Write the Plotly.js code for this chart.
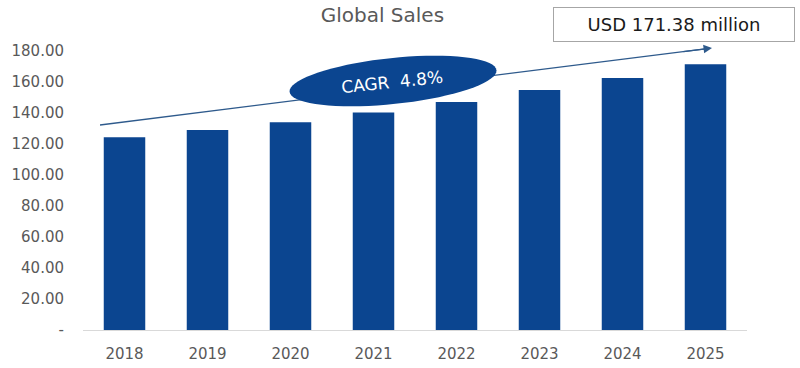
<!DOCTYPE html>
<html><head><meta charset="utf-8">
<script src="https://cdn.plot.ly/plotly-3.0.1.min.js"></script>
<style>html,body{margin:0;padding:0;background:#fff}#chart{width:800px;height:368px}</style>
</head><body><div id="chart"></div>
<script>
const years = ['2018','2019','2020','2021','2022','2023','2024','2025'];
const sales = [124.4, 129.0, 134.1, 140.3, 147.1, 154.8, 162.6, 171.38];
const yTickVals = [0, 20, 40, 60, 80, 100, 120, 140, 160, 180];
const yTickText = ['-', '20.00', '40.00', '60.00', '80.00', '100.00', '120.00', '140.00', '160.00', '180.00'];
const titleText = 'Global Sales';
const cagrText = 'CAGR  4.8%';
const calloutText = 'USD 171.38 million';

// plot-area geometry in pixels (for decorative shapes)
const L = 83, R = 53, T = 51, B = 38, W = 800, H = 368;
const pw = W - L - R, ph = H - T - B;
const px = x => (x - L) / pw;
const py = y => (H - B - y) / ph;

// rotated ellipse path (decorative)
function ellipsePath(cx, cy, a, b, deg) {
  const r = deg * Math.PI / 180;
  let d = '';
  for (let i = 0; i <= 72; i++) {
    const t = i / 72 * 2 * Math.PI;
    const ex = a * Math.cos(t), ey = b * Math.sin(t);
    const x = cx + ex * Math.cos(r) - ey * Math.sin(r);
    const y = cy + ex * Math.sin(r) + ey * Math.cos(r);
    d += (i === 0 ? 'M' : 'L') + px(x).toFixed(5) + ',' + py(y).toFixed(5) + ' ';
  }
  return d + 'Z';
}

const data = [{
  type: 'bar', x: years, y: sales,
  marker: {color: '#0b4590', line: {width: 0}},
  hoverinfo: 'x+y'
}];

const layout = {
  width: W, height: H,
  margin: {l: L, r: R, t: T, b: B},
  paper_bgcolor: '#fff', plot_bgcolor: '#fff',
  showlegend: false, bargap: 0.5,
  font: {family: 'DejaVu Sans', color: '#595959'},
  title: {text: titleText, x: 0.478, xanchor: 'center', y: 0.958, yanchor: 'middle',
          font: {family: 'DejaVu Sans', size: 20, color: '#595959'}},
  xaxis: {type: 'category', showgrid: false, zeroline: false, showline: true,
          linecolor: '#d9d9d9', linewidth: 1, ticks: '', ticklabelstandoff: 10,
          tickfont: {size: 15, color: '#595959'}},
  yaxis: {range: [0, 180], showgrid: false, zeroline: false, showline: false,
          tickvals: yTickVals, ticktext: yTickText, ticks: '', ticklabelstandoff: 18,
          tickfont: {size: 15, color: '#595959'}},
  shapes: [
    {type: 'line', xref: 'paper', yref: 'paper', x0: px(100), y0: py(125), x1: px(705), y1: py(48.9),
     line: {color: '#2e5a8c', width: 1.3}},
    {type: 'path', xref: 'paper', yref: 'paper', path: ellipsePath(393, 81, 104, 23, -6),
     fillcolor: '#0b4590', line: {width: 0}}
  ],
  annotations: [
    {xref: 'paper', yref: 'paper', x: px(712), y: py(48), ax: -30, ay: 3.8, text: '',
     showarrow: true, arrowhead: 2, arrowsize: 1.3, arrowwidth: 1.3, arrowcolor: '#2e5a8c', standoff: 0},
    {xref: 'paper', yref: 'paper', x: px(392), y: py(82), xanchor: 'center', yanchor: 'middle',
     text: cagrText, showarrow: false,
     textangle: -6, font: {family: 'DejaVu Sans', size: 17, color: '#ffffff'}},
    {xref: 'paper', yref: 'paper', x: px(674), y: py(24), xanchor: 'center', yanchor: 'middle',
     text: calloutText, showarrow: false,
     width: 238, height: 31, bordercolor: '#a6a6a6', borderwidth: 1, bgcolor: '#ffffff',
     font: {family: 'DejaVu Sans', size: 18, color: '#1a1a1a'}}
  ]
};

Plotly.newPlot('chart', data, layout, {displayModeBar: false, staticPlot: true});
</script></body></html>
